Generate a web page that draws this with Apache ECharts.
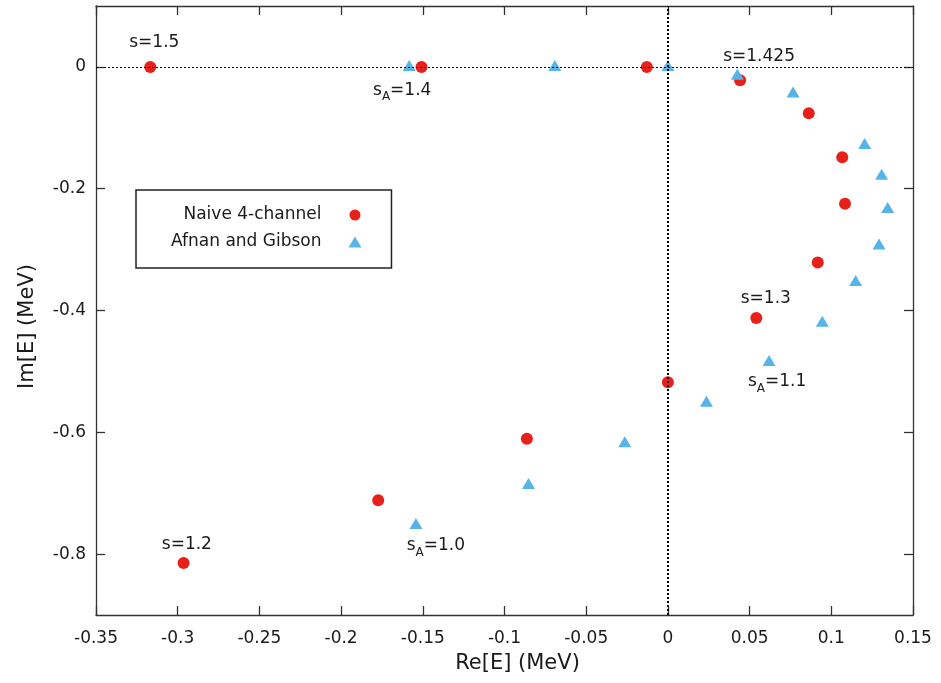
<!DOCTYPE html>
<html>
<head>
<meta charset="utf-8">
<script src="https://cdn.jsdelivr.net/npm/echarts@6/dist/echarts.min.js"></script>
<style>
html,body{margin:0;padding:0;background:#fff;}
#chart{width:941px;height:683px;}
</style>
</head>
<body>
<div id="chart"></div>
<script>
// ---- data ----
const naiveRe = [-0.3168, -0.1508, -0.0129, 0.0442, 0.0862, 0.1067, 0.1084, 0.0917, 0.0541, 0.0, -0.0863, -0.1773, -0.2964];
const naiveIm = [0, 0, 0, -0.0218, -0.0763, -0.1484, -0.2249, -0.3211, -0.4122, -0.5177, -0.6104, -0.7115, -0.8147];
const agRe = [-0.1583, -0.0692, 0.0, 0.0425, 0.0766, 0.1204, 0.1308, 0.1345, 0.1292, 0.1149, 0.0945, 0.0619, 0.0236, -0.0264, -0.0853, -0.1542];
const agIm = [0, 0, 0, -0.0147, -0.0437, -0.1283, -0.1786, -0.2332, -0.2933, -0.3534, -0.4200, -0.4845, -0.5516, -0.6181, -0.6865, -0.7524];
const seriesNames = ['Naive 4-channel', 'Afnan and Gibson'];
const xTicks = [-0.35, -0.3, -0.25, -0.2, -0.15, -0.1, -0.05, 0, 0.05, 0.1, 0.15];
const yTicks = [-0.8, -0.6, -0.4, -0.2, 0];
const noteX = [-0.3143, -0.1626, 0.0558, 0.0599, 0.0668, -0.142, -0.2944];
const noteY = [0.0393, -0.0426, 0.0175, -0.3806, -0.5214, -0.7906, -0.7836];
const noteText = ['s=1.5', 's{sub|A}=1.4', 's=1.425', 's=1.3', 's{sub|A}=1.1', 's{sub|A}=1.0', 's=1.2'];

const FONT = 'DejaVu Sans';
const TXT = '#1a1a1a';
const FRAME = '#333';

const chart = echarts.init(document.getElementById('chart'), null, {renderer: 'canvas'});

const zip = (a, b) => a.map((v, i) => [v, b[i]]);

function fmt(v) { return String(parseFloat(Number(v).toFixed(3))); }

const baseAxis = {
  axisLine: {show: true, onZero: false, lineStyle: {color: FRAME, width: 1.3}},
  axisTick: {show: true, inside: true, length: 9, lineStyle: {color: FRAME, width: 1.3}},
  splitLine: {show: false},
};

const option = {
  backgroundColor: '#fff',
  animation: false,
  grid: {left: 96, right: 28, top: 6, bottom: 68, containLabel: false},
  xAxis: [
    Object.assign({}, baseAxis, {
      type: 'value', min: -0.35, max: 0.15, interval: 0.05, position: 'bottom',
      name: 'Re[E] (MeV)', nameLocation: 'middle', nameGap: 38,
      nameTextStyle: {fontFamily: FONT, fontSize: 21, color: TXT, padding: [0, 0, 0, 26]},
      axisLabel: {show: true, margin: 15, fontFamily: FONT, fontSize: 17, color: TXT, formatter: fmt,
        customValues: xTicks},
      axisTick: Object.assign({}, baseAxis.axisTick, {customValues: xTicks})
    }),
    Object.assign({}, baseAxis, {
      type: 'value', min: -0.35, max: 0.15, interval: 0.05, position: 'top',
      axisLabel: {show: false},
      axisTick: Object.assign({}, baseAxis.axisTick, {customValues: xTicks})
    })
  ],
  yAxis: [
    Object.assign({}, baseAxis, {
      type: 'value', min: -0.9, max: 0.1, position: 'left',
      name: 'Im[E] (MeV)', nameLocation: 'middle', nameGap: 58,
      nameTextStyle: {fontFamily: FONT, fontSize: 21, color: TXT, padding: [0, 32, 0, 0]},
      axisLabel: {show: true, margin: 10, fontFamily: FONT, fontSize: 17, color: TXT, formatter: fmt,
        customValues: yTicks},
      axisTick: Object.assign({}, baseAxis.axisTick, {customValues: yTicks})
    }),
    Object.assign({}, baseAxis, {
      type: 'value', min: -0.9, max: 0.1, position: 'right',
      axisLabel: {show: false},
      axisTick: Object.assign({}, baseAxis.axisTick, {customValues: yTicks})
    })
  ],
  legend: {
    data: seriesNames,
    orient: 'vertical',
    align: 'right',
    left: 136, top: 190,
    padding: [15, 30, 16, 35],
    itemGap: 7,
    itemWidth: 13, itemHeight: 11,
    borderColor: '#222', borderWidth: 1.5, borderRadius: 0,
    backgroundColor: '#fff',
    textStyle: {fontFamily: FONT, fontSize: 17, color: TXT, lineHeight: 20, padding: [0, 22, 0, 0]},
    selectedMode: false
  },
  series: [
    {
      type: 'scatter', name: 'zero-lines', data: [], z: 1, silent: true,
      markLine: {
        silent: true, symbol: 'none', animation: false,
        label: {show: false},
        data: [
          {xAxis: 0, lineStyle: {color: '#000', width: 2, type: [2, 2]}},
          {yAxis: 0, lineStyle: {color: '#000', width: 1, type: [2, 2]}}
        ]
      }
    },
    {
      type: 'scatter', name: seriesNames[0], z: 3,
      data: zip(naiveRe, naiveIm),
      symbol: 'circle', symbolSize: 12,
      itemStyle: {color: '#e8201a', opacity: 1}
    },
    {
      type: 'scatter', name: seriesNames[1], z: 4,
      data: zip(agRe, agIm),
      symbol: 'triangle', symbolSize: [13, 11], symbolOffset: [0, -1.5],
      itemStyle: {color: '#56b4e9', opacity: 1}
    },
    {
      type: 'scatter', name: 'notes', z: 5, silent: true,
      data: noteX.map((x, i) => ({value: [x, noteY[i]], text: noteText[i]})),
      symbol: 'circle', symbolSize: 0.01,
      itemStyle: {color: '#fff', opacity: 1},
      label: {
        show: true, position: 'inside', opacity: 1,
        textBorderWidth: 0, textShadowBlur: 0,
        formatter: p => p.data.text.indexOf('{sub|') >= 0 ? p.data.text.replace(/^s/, '{b|s}').replace(/=(.*)$/, '{b|=$1}') : p.data.text,
        fontFamily: FONT, fontSize: 17, color: TXT,
        rich: {
          b: {fontFamily: FONT, fontSize: 17, color: TXT, verticalAlign: 'bottom', lineHeight: 20, padding: [0, 0, 4, 0], textBorderWidth: 0},
          sub: {fontFamily: FONT, fontSize: 12, color: TXT, verticalAlign: 'bottom', lineHeight: 13, padding: [8, 0, 0, 0], textBorderWidth: 0}
        }
      }
    }
  ]
};

chart.setOption(option);
</script>
</body>
</html>
